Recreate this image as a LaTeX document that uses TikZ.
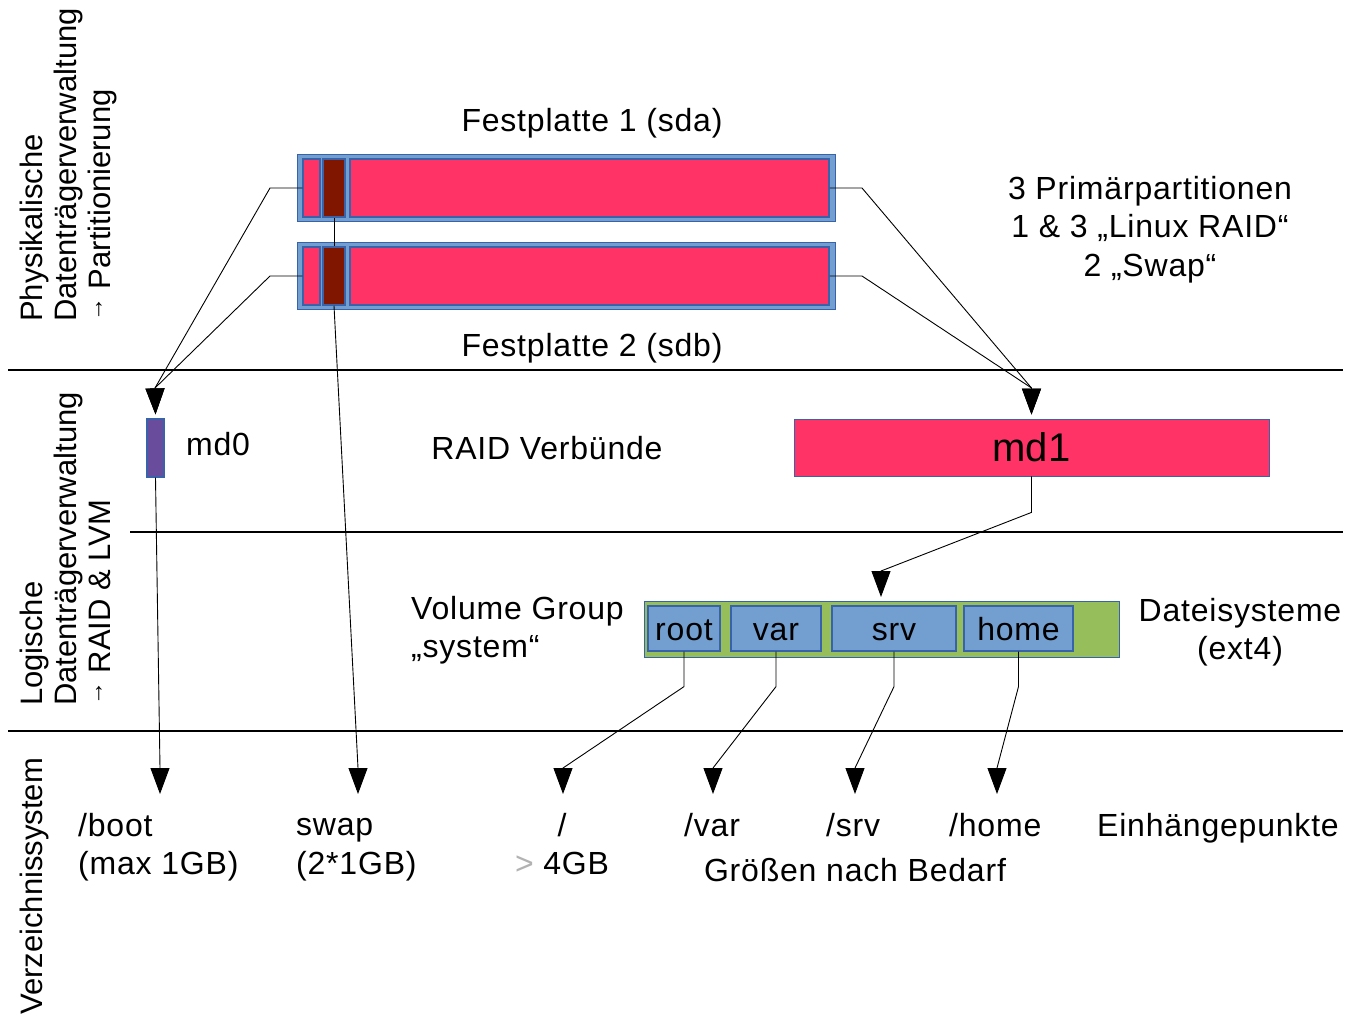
\documentclass[tikz,border=0pt]{standalone}
\usepackage{fontspec}
\setmainfont{Liberation Sans}
\usetikzlibrary{arrows.meta}

\definecolor{diskblue}{RGB}{114,159,207}
\definecolor{edgeblue}{RGB}{56,98,170}
\definecolor{raidpink}{RGB}{255,51,102}
\definecolor{swapred}{RGB}{128,21,0}
\definecolor{mdpurple}{RGB}{106,76,156}
\definecolor{vggreen}{RGB}{150,190,90}

\newcommand{\smallarr}{\raisebox{0.25em}{\fontsize{24}{24}\selectfont →}}

\begin{document}
\begin{tikzpicture}[x=1pt,y=-1pt,
  every node/.style={inner sep=0pt,font=\fontsize{32}{38.5}\selectfont\addfontfeatures{LetterSpace=2.5}},
  disk/.style={draw=edgeblue,fill=diskblue,line width=1pt,minimum width=538pt,minimum height=67pt},
  part/.style={draw=edgeblue,fill=raidpink,line width=1.5pt,minimum height=58pt},
  lv/.style={draw=edgeblue,fill=diskblue,line width=1.2pt,minimum height=45pt,text height=24pt,text depth=0pt},
  side/.style={rotate=90,anchor=north west,align=left,font=\fontsize{31}{34}\selectfont},
  sep/.style={line width=1.2pt},
  link/.style={line width=0.9pt},
  arr/.style={link,-{Triangle[width=19pt,length=26pt]}}
]
\fill[white] (0,0) rectangle (1355,1017);
\useasboundingbox (0,0) rectangle (1355,1017);

% Trennlinien
\draw[sep] (8,370) -- (1343,370);
\draw[sep] (130,532) -- (1343,532);
\draw[sep] (8,731) -- (1343,731);

% Ebenen
\node[side] (phys) at (20,322) {Physikalische\\Datenträgerverwaltung\\\smallarr{} Partitionierung};
\node[side] (logi) at (20,706) {Logische\\Datenträgerverwaltung\\\smallarr{} RAID \& LVM};
\node[side] (verz) at (20,1015) {Verzeichnissystem};

% Festplatten
\node[disk] (sda) at (566,187.5) {};
\node[part,minimum width=17pt] (sda1) at (311.5,188) {};
\node[part,fill=swapred,minimum width=22pt] (sda2) at (334,188) {};
\node[part,minimum width=479pt] (sda3) at (589.5,188) {};

\node[disk] (sdb) at (566,276) {};
\node[part,minimum width=17pt] (sdb1) at (311.5,276) {};
\node[part,fill=swapred,minimum width=22pt] (sdb2) at (334,276) {};
\node[part,minimum width=479pt] (sdb3) at (589.5,276) {};

\node (lsda) at (592,123) {Festplatte 1 (sda)};
\node (lsdb) at (592,348) {Festplatte 2 (sdb)};
\node[align=center] (prim) at (1150,229.5) {3 Primärpartitionen\\1 \& 3 „Linux RAID“\\2 „Swap“};

% RAID
\node[draw=edgeblue,fill=mdpurple,line width=1.2pt,minimum width=17pt,minimum height=58pt] (md0) at (155.5,448) {};
\node[anchor=west] (lmd0) at (186,444) {md0};
\node (lraid) at (547,448) {RAID Verbünde};
\node[draw=edgeblue,fill=raidpink,line width=0.8pt,minimum width=475pt,minimum height=57pt,
  font=\fontsize{40}{48}\selectfont] (md1) at (1031.5,447.5) {md1};

% LVM
\node[draw=edgeblue,fill=vggreen,line width=1pt,minimum width=475pt,minimum height=56pt] (vg) at (881.5,629) {};
\node[lv,minimum width=72pt] (root) at (684,628.5) {root};
\node[lv,minimum width=90pt] (var) at (776,628.5) {var};
\node[lv,minimum width=124pt] (srv) at (894,628.5) {srv};
\node[lv,minimum width=109pt] (home) at (1018.5,628.5) {home};
\node[anchor=west,align=left] (lvg) at (411,630) {Volume Group\\„system“};
\node[align=center] (lfs) at (1240,632) {Dateisysteme\\(ext4)};

% Einhaengepunkte
\node[anchor=west,align=left] (boot) at (78,847) {/boot\\(max 1GB)};
\node[anchor=west,align=left] (swap) at (296,849.5) {swap\\(2*1GB)};
\node[align=center] (slash) at (562,844) {/\\{\color{gray!60}>} 4GB};
\node[anchor=west] (mvar) at (684,825) {/var};
\node[anchor=west] (msrv) at (826,825) {/srv};
\node[anchor=west] (mhome) at (949,825) {/home};
\node (bedarf) at (855,870) {Größen nach Bedarf};
\node (mount) at (1218,828) {Einhängepunkte};

\coordinate (tboot) at (160,794);
\coordinate (tswap) at (358,794);
\coordinate (troot) at (563,794);
\coordinate (tvar) at (713,794);
\coordinate (tsrv) at (855,794);
\coordinate (thome) at (997,794);
\coordinate (tvg) at (881,597);

% Verbindungen
\draw[arr] (sda1.west) -- (270,188) -- (155,388) -- ([yshift=4pt]md0.north);
\draw[arr] (sdb1.west) -- (270,276) -- (155,388) -- ([yshift=4pt]md0.north);
\draw[arr] (sda3.east) -- (862,188) -- (1031.5,388) -- ([yshift=4pt]md1.north);
\draw[arr] (sdb3.east) -- (862,276) -- (1031.5,388) -- ([yshift=4pt]md1.north);

\draw[link] (sda2.south) -- (sdb2.north);
\draw[arr] (sdb2.south) -- ([yshift=26pt]tswap) -- (tswap);
\draw[arr] (md0.south) -- ([yshift=26pt]tboot) -- (tboot);

\draw[arr] (md1.south) -- ++(0,36) -- ([yshift=26pt]tvg) -- (tvg);

\draw[arr] (root.south) -- ++(0,35) -- ([yshift=26pt]troot) -- (troot);
\draw[arr] (var.south) -- ++(0,35) -- ([yshift=26pt]tvar) -- (tvar);
\draw[arr] (srv.south) -- ++(0,35) -- ([yshift=26pt]tsrv) -- (tsrv);
\draw[arr] (home.south) -- ++(0,35) -- ([yshift=26pt]thome) -- (thome);

\end{tikzpicture}
\end{document}
